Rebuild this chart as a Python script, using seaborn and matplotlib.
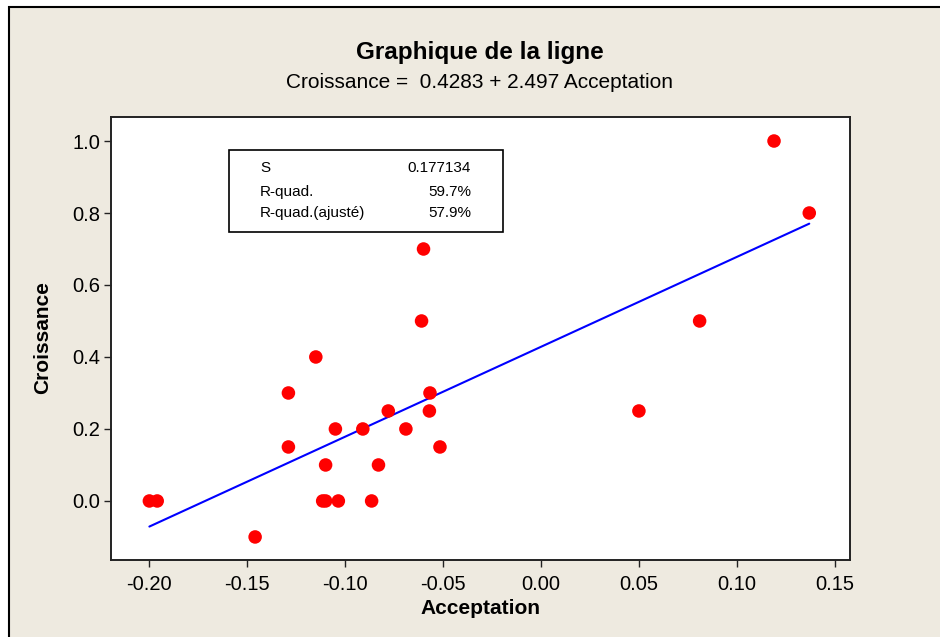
import numpy as np
import pandas as pd
import seaborn as sns
import matplotlib.pyplot as plt
from matplotlib.patches import Rectangle

# Data
acceptation = [-0.200, -0.196, -0.146, -0.129, -0.129, -0.115, -0.110, -0.1115,
               -0.110, -0.1035, -0.105, -0.091, -0.0865, -0.083, -0.078, -0.069,
               -0.061, -0.060, -0.057, -0.0567, -0.0516, 0.050, 0.081, 0.119, 0.137]
croissance = [0.0, 0.0, -0.1, 0.3, 0.15, 0.4, 0.1, 0.0,
              0.0, 0.0, 0.2, 0.2, 0.0, 0.1, 0.25, 0.2,
              0.5, 0.7, 0.25, 0.3, 0.15, 0.25, 0.5, 1.0, 0.8]

# fitted line (from the chart's equation)
intercept = 0.4283
slope = 2.497
stat_names = ['S', 'R-quad.', 'R-quad.(ajusté)']
stat_values = ['0.177134', '59.7%', '57.9%']

x_ticks = [-0.20, -0.15, -0.10, -0.05, 0.00, 0.05, 0.10, 0.15]
y_ticks = [0.0, 0.2, 0.4, 0.6, 0.8, 1.0]

df = pd.DataFrame({'Acceptation': acceptation, 'Croissance': croissance})
xs = np.linspace(min(acceptation), max(acceptation), 50)
fit = pd.DataFrame({'Acceptation': xs, 'Croissance': intercept + slope * xs})

sns.set_style('white')
plt.rcParams['font.family'] = ['Liberation Sans', 'DejaVu Sans']
plt.rcParams['text.color'] = 'black'
plt.rcParams['xtick.color'] = 'black'
plt.rcParams['ytick.color'] = 'black'

bg = '#eeeae0'
fig = plt.figure(figsize=(9.4, 6.37), dpi=100, facecolor='white')
# beige panel with black border (top and left visible)
fig.patches.append(Rectangle((9 / 940, -0.05), 1.1, 1 - 7 / 637 + 0.05,
                             transform=fig.transFigure, facecolor=bg,
                             edgecolor='black', linewidth=1.5, zorder=-5))

ax = fig.add_axes([111 / 940, 1 - 560 / 637, 739 / 940, 443 / 637])
ax.set_zorder(2)
ax.set_facecolor('white')

sns.lineplot(data=fit, x='Acceptation', y='Croissance', ax=ax,
             color='#0000ff', linewidth=1.5, zorder=2)
sns.scatterplot(data=df, x='Acceptation', y='Croissance', ax=ax,
                color='#ff0000', s=95, edgecolor='none', zorder=3)

ax.set_xlim(-0.2196, 0.1578)
ax.set_ylim(-0.164, 1.0667)
ax.set_xticks(x_ticks)
ax.set_xticklabels([f'{v:.2f}' for v in x_ticks])
ax.set_yticks(y_ticks)
ax.set_yticklabels([f'{v:.1f}' for v in y_ticks])
ax.tick_params(axis='both', direction='out', length=5, width=1,
               labelsize=14.5, color='#222222', bottom=True, left=True)
ax.tick_params(axis='x', pad=6)
ax.tick_params(axis='y', pad=3)
for sp in ax.spines.values():
    sp.set_color('#222222')
    sp.set_linewidth(1.4)

ax.set_xlabel('')
ax.set_ylabel('')
fig.text(480 / 940, 1 - 609 / 637, 'Acceptation', ha='center', va='center',
         fontsize=15, fontweight='bold')
fig.text(43 / 940, 1 - 338 / 637, 'Croissance', ha='center', va='center',
         fontsize=15, fontweight='bold', rotation=90)

fig.text(480 / 940, 1 - 53 / 637, 'Graphique de la ligne', ha='center',
         va='center', fontsize=17.5, fontweight='bold')
fig.text(480 / 940, 1 - 82 / 637,
         f'Croissance =  {intercept:.4f} + {slope:.3f} Acceptation',
         ha='center', va='center', fontsize=15)

# stats box
ax.add_patch(Rectangle((0.160, 0.740), 0.370, 0.186, transform=ax.transAxes,
                       facecolor='white', edgecolor='black', linewidth=1.2,
                       zorder=4))
row_y = [168, 192, 213]
for name, val, py in zip(stat_names, stat_values, row_y):
    yy = (560 - py) / 443
    ax.text((260 - 111) / 739, yy, name, transform=ax.transAxes,
            ha='left', va='center', fontsize=11, zorder=5)
    ax.text((471 - 111) / 739, yy, val, transform=ax.transAxes,
            ha='right', va='center', fontsize=11, zorder=5)

fig.savefig('out.png', dpi=100, facecolor=fig.get_facecolor())
